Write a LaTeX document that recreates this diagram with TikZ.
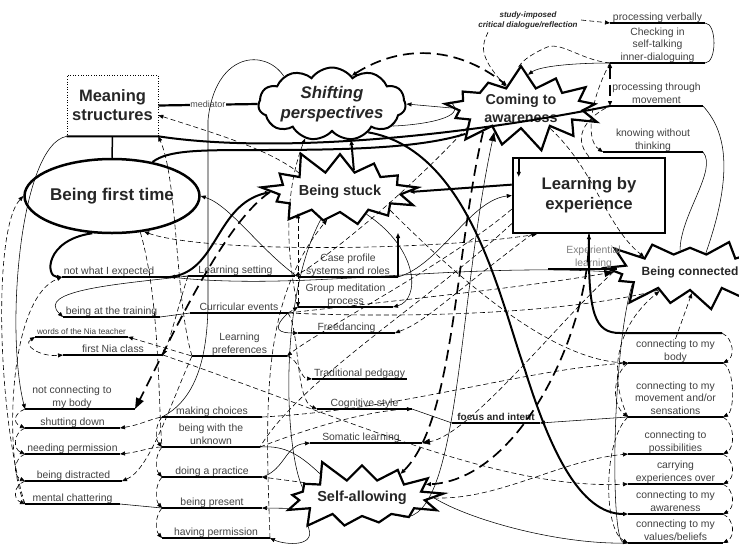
\documentclass[tikz,border=0pt]{standalone}
\usepackage{fontspec}
\setmainfont{Liberation Sans}
\usetikzlibrary{shapes.symbols,shapes.geometric,arrows.meta}
\tikzset{
 lab/.style={font=\fontsize{10.4}{12.3}\selectfont, text=black!75, align=center, inner sep=1.2pt, text depth=1.5pt},
 uline/.style={line width=2.2pt},
 thn/.style={draw, line width=0.55pt},
 thk/.style={draw, line width=2pt},
 dsh/.style={draw, line width=0.6pt, dash pattern=on 5pt off 3pt},
 ldsh/.style={draw, line width=1.7pt, dash pattern=on 11pt off 6pt},
 burst/.style={starburst, draw, line width=2.2pt, text=black!85, font=\bfseries\fontsize{14.5}{17}\selectfont, align=center, inner sep=0pt, starburst points=13, starburst point height=24pt},
 bigtip/.style={-{Triangle[length=9pt,width=7pt]}},
}
\newcommand\ulab[6][]{%
 \coordinate (#2-l) at (#3,#5); \coordinate (#2-r) at (#4,#5);
 \node[lab,anchor=south,#1] (#2) at ({(#3+#4)/2},#5) {#6};
 \draw[uline] (#2-l) -- (#2-r);}
\begin{document}
\begin{tikzpicture}[x=1pt,y=-1pt, >={Triangle[length=5pt,width=4pt]}]
\useasboundingbox (0,0) rectangle (739,550);

% ---------- main nodes
\node[draw, dotted, line width=0.6pt, minimum width=91pt, minimum height=61pt, font=\bfseries\fontsize{16.5}{19}\selectfont, align=center, text=black!85] (ms) at (112.5,105.5) {Meaning\\structures};
\node[cloud, cloud puffs=11, cloud puff arc=110, aspect=2.7, draw, line width=2pt, minimum width=146pt, minimum height=54pt, inner sep=0pt, text=black!85, font=\bfseries\itshape\fontsize{16.8}{20}\selectfont, align=center] (sp) at (332,104) {Shifting\\perspectives};
\node[burst, random starburst=7, minimum width=172pt, minimum height=88pt, font=\bfseries\fontsize{14.3}{18}\selectfont] (ca) at (521,108) {Coming to\\awareness};
\node[ellipse, draw, line width=2.5pt, minimum width=153pt, minimum height=74pt, inner sep=0pt, text=black!85, font=\bfseries\fontsize{17}{20}\selectfont] (bft) at (112,196) {Being first time};
\node[burst, random starburst=11, minimum width=170pt, minimum height=88pt] (bs) at (340,192) {Being stuck};
\node[draw, line width=2.5pt, minimum width=152pt, minimum height=75pt, text=black!85, font=\bfseries\fontsize{16.7}{20}\selectfont, align=center] (lbe) at (589,195.5) {Learning by\\experience};
\node[burst, random starburst=23, minimum width=160pt, minimum height=84pt, font=\bfseries\fontsize{12}{15}\selectfont] (bc) at (690,272) {Being connected};
\node[burst, random starburst=5, minimum width=165pt, minimum height=84pt] (sa) at (362,498) {Self-allowing};

\node[font=\bfseries\itshape\fontsize{8}{10}\selectfont, align=center, text=black!85] (study) at (528,20) {study-imposed\\critical dialogue/reflection};

% ---------- labelled lines
\ulab{pv}{610}{705}{23}{processing verbally}
\ulab{ci}{610}{705}{63}{Checking in\\self-talking\\inner-dialoguing}
\ulab{ptm}{610}{703}{106}{processing through\\movement}
\ulab{kwt}{603}{703}{152}{knowing without\\thinking}

\ulab[xshift=-7pt]{nwe}{62}{170}{277}{not what I expected}
\ulab{bat}{63}{160}{317}{being at the training}
\ulab[font=\fontsize{8.2}{9}\selectfont]{wnt}{35}{128}{337}{words of the Nia teacher}
\ulab{fnc}{63}{163}{355}{first Nia class}
\ulab[xshift=-8pt]{ncb}{25}{135}{409}{not connecting to\\my body}
\ulab{sd}{25}{120}{428}{shutting down}
\ulab{np}{25}{120}{454}{needing permission}
\ulab{bd}{25}{122}{481}{being distracted}
\ulab{mc}{25}{120}{504}{mental chattering}

\ulab[xshift=-6pt]{ls}{188}{295}{276}{Learning setting}
\ulab{ce}{190}{288}{313}{Curricular events}
\ulab{lp}{192}{287}{356}{Learning\\preferences}
\ulab{mch}{162}{262}{417}{making choices}
\ulab{bwu}{162}{260}{447}{being with the\\unknown}
\ulab{dap}{162}{262}{477}{doing a practice}
\ulab{bp}{162}{262}{508}{being present}
\ulab{hp}{162}{270}{538}{having permission}

\ulab{cp}{298}{398}{277}{Case profile\\systems and roles}
\ulab{gmp}{298}{393}{307}{Group meditation\\process}
\ulab{fd}{298}{395}{333}{Freedancing}
\ulab{tp}{312}{407}{379}{Traditional pedgagy}
\ulab{cs}{317}{412}{409}{Cognitive style}
\ulab[xshift=-5pt]{sl}{310}{422}{443}{Somatic learning}
\ulab[font=\bfseries\fontsize{10}{11}\selectfont, text=black!85]{fi}{452}{540}{423}{focus and intent}
\ulab[xshift=11pt, text=black!50]{el}{548}{617}{269}{Experiential\\learning}

\ulab{cb}{628}{723}{363}{connecting to my\\body}
\ulab{cms}{628}{723}{417}{connecting to my\\movement and/or\\sensations}
\ulab{cpo}{628}{723}{454}{connecting to\\possibilities}
\ulab{ceo}{628}{723}{484}{carrying\\experiences over}
\ulab{cma}{628}{723}{514}{connecting to my\\awareness}
\ulab{cvb}{628}{723}{543}{connecting to my\\values/beliefs}
\coordinate (bcu) at (722,333);

% ---------- connectors: top
\draw[uline] (ms.east) -- node[fill=white, font=\fontsize{9}{10}\selectfont, text=black!70, inner sep=0.8pt]{mediator} (sp.west);
\draw[dsh,->] (study.east) -- (pv-l);
\draw[thn] (pv-r) .. controls (717,23) and (717,63) .. (ci-r);
\draw[dsh,->] ([xshift=-40pt]study.south) .. controls (482,45) and (478,55) .. (ca.125);
\draw[ldsh,<->] (sp.55) .. controls (400,45) and (455,45) .. (ca.122);
\draw[thn,->] (ci-l) .. controls (575,63) and (540,66) .. (ca.78);
\draw[dsh] (ci-l) .. controls (580,60) and (560,40) .. (545,48) .. controls (530,55) and (520,62) .. (ca.95);
\draw[ldsh,<->] (ci-l) -- (ptm-l);
\draw[dsh,->] (ci-l) .. controls (590,100) and (585,140) .. (kwt-l);
\draw[dsh] (lbe.north) .. controls (570,135) and (590,115) .. (ptm-l);
\draw[thn] (ptm-r) .. controls (725,130) and (735,170) .. (bc.50);
\draw[thn] (kwt-r) .. controls (718,170) and (680,215) .. (bc.115);
\draw[thn,->] (ca.west) -- (sp.east);
\draw[thn] (sp.-20) .. controls (420,125) and (470,118) .. (ca.175);

% meaning structures / first time
\draw[line width=1.5pt] (ms.south) -- (bft.north);
\draw[thk] (ms.south west) -- (ms.south east) .. controls (260,152) and (430,142) .. (ptm-l);
\draw[thk] (bft.40) .. controls (168,150) and (200,150) .. (260,150) .. controls (350,150) and (420,148) .. (ca.-155);
\draw[thn] (sp.150) .. controls (265,48) and (215,52) .. (208,120) -- (208,300) .. controls (208,360) and (195,400) .. (mch-l);
\draw[thn,->] (ms.south west) .. controls (20,145) and (5,330) .. (ncb-l);
\draw[dsh,<-] (ms.-12) .. controls (220,135) and (270,150) .. (bs.155);
\draw[dsh,->] (lp-l) .. controls (175,300) and (178,180) .. (ms.south east);
\draw[dsh,<->] (bft.-48) .. controls (200,252) and (420,252) .. ([xshift=25pt]lbe.south west);
\draw[dsh] (bft.-52) .. controls (160,300) and (158,400) .. (bwu-l);
\draw[dsh,->] (mc-l) .. controls (5,470) and (5,300) .. (nwe-l);
\draw[dsh,->] (mc-l) .. controls (-2,420) and (-8,230) .. (bft.west);
\draw[thk,->] (bft.-118) .. controls (45,240) and (45,277) .. (nwe-l);
\draw[thn,->] (ls-l) .. controls (120,284) and (35,290) .. (bat-l);
\draw[thn] (bat-r) -- (ce-l);
\draw[dsh,<-] (nwe-r) -- (ls-l);
\draw[thn] (nwe-r) .. controls (300,292) and (450,262) .. (bc.west);
\draw[dsh,<-] (wnt-r) -- (lp-l);
\draw[dsh,<->] (wnt-l) .. controls (22,345) and (40,357) .. (fnc-l);
\draw[thk,->] (nwe-r) .. controls (218,272) and (215,205) .. (bs.west);
\draw[ldsh,-{Triangle[length=11pt,width=8pt]}] (bs.west) .. controls (225,222) and (175,330) .. (ncb-r);
\draw[dsh,->] (ls-l) .. controls (180,300) and (170,340) .. (fnc-r);
\draw[thn,->] (cp-l) .. controls (260,250) and (230,205) .. (bft.east);

% left column brackets
\foreach \a/\b in {ncb/sd, sd/np, np/bd, bd/mc}
  \draw[dsh,->] (\a-l) .. controls +(-12,5) and +(-12,-5) .. (\b-l);
\draw[dsh,<-] (sd-r) .. controls (140,425) and (150,419) .. (mch-l);
\draw[dsh,<-] (np-r) .. controls (140,452) and (150,447) .. (bwu-l);
\draw[dsh,<-] (bd-r) .. controls (150,470) and (172,400) .. (lp-l);
\draw[thn] (mc-r) -- (bp-l);
\foreach \a/\b in {mch/bwu, bwu/dap, dap/bp, bp/hp}
  \draw[dsh,->] (\a-l) .. controls +(-7,8) and +(-7,-8) .. (\b-l);

% middle column
\draw[dsh,<->] (gmp-l |- bs.south) -- (gmp-l);
\draw[dsh,->] (ce-r) -- (gmp-l);
\draw[thn,->] (ce-r) .. controls (270,330) and (280,333) .. (fd-l);
\draw[dsh,<-] (fd-r) .. controls (425,322) and (445,300) .. ([xshift=20pt]lbe.south west);
\draw[thn,->] (bs.-40) .. controls (420,250) and (420,300) .. (gmp-r);
\draw[thk,->] (cp-r) -- ++(0,-44);
\draw[dsh,->] (lp-r) .. controls (300,360) and (300,378) .. (tp-l);
\draw[dsh,->] (ce-r) .. controls (300,330) and (295,400) .. (cs-l);
\draw[dsh,->] (bwu-r) .. controls (330,420) and (380,410) .. (cs-r);
\draw[thn,->] (dap-r) .. controls (285,470) and (285,445) .. (sl-l);
\draw[dsh,-{Triangle[length=8pt,width=6pt]}] (bc.west) .. controls (560,320) and (470,435) .. (sl-r);
\draw[thn] (cs-r) -- (fi-l);
\draw[thn,<-] (fi-r) -- (cms-l);
\draw[dsh,->] (ca.-160) .. controls (400,200) and (320,262) .. (ls-r);
\draw[dsh] (lbe.-160) .. controls (430,300) and (300,380) .. (bwu-r);
\draw[dsh,->] (lbe.-170) .. controls (450,262) and (320,330) .. (lp-r);
\draw[dsh,->] (gmp-l) .. controls (285,250) and (285,190) .. (sp.-128);
\draw[thk,->] (bs.58) -- (sp.-62);
\draw[dsh,->] (hp-r) .. controls (265,400) and (262,300) .. (bs.-115);
\draw[thn] (bs.-125) .. controls (278,300) and (285,450) .. (sa.170);

% self-allowing
\draw[dsh,->] (sa.165) -- (dap-r);
\draw[thn,->] (sa.188) -- (bp-r);
\draw[thn] (sa.150) .. controls (300,455) and (285,445) .. (bwu-r);
\draw[thn,->] (sa.-155) .. controls (320,548) and (285,545) .. (hp-r);
\draw[thn] (sa.east) .. controls (470,520) and (560,545) .. (cvb-l);
\draw[ldsh,->] (lbe.south) .. controls (590,330) and (520,480) .. (sa.12);
\draw[ldsh,->] (ca.-148) .. controls (455,250) and (455,420) .. (sa.32);
\draw[thn,bigtip] (sa.-25) .. controls (460,520) and (458,300) .. (ca.-138);
\draw[thk,->] (sp.-38) .. controls (470,150) and (500,300) .. (525,370) .. controls (550,450) and (580,514) .. (cma-l);
\draw[thk,->] ([xshift=7pt]lbe.north west) -- ++(0,20);

% learning by experience / being stuck
\draw[thk,->] (lbe.172) -- (bs.east);
\draw[thn,->] (cp-r) .. controls (440,265) and (470,200) .. (lbe.west);
\draw[thk,<-] (lbe.south) .. controls (588,315) and (595,333) .. (620,333) -- (bcu);
\draw[dsh,bigtip] (ce-r) .. controls (400,300) and (520,288) .. (bc.west);
\draw[dsh,->] (ca.-35) .. controls (595,170) and (605,225) .. (bc.162);
\draw[dsh,->] (cms-l) .. controls (610,380) and (612,330) .. (bc.-148);
\draw[dsh,->] (cb.north) -- (bc.-85);
\draw[dsh] (ce-r) .. controls (400,318) and (560,315) .. (bc.-150);

% right column
\foreach \a/\b in {bcu/cb-r, cb-r/cms-r, cms-r/cpo-r, cpo-r/ceo-r, ceo-r/cma-r, cma-r/cvb-r}
  \draw[dsh,->] (\a) .. controls +(12,6) and +(12,-6) .. (\b);
\draw[dsh,->] (cb-l) .. controls (612,375) and (612,405) .. (cms-l);
\draw[dsh,->] (cms-l) .. controls (603,440) and (603,530) .. (cvb-l);
\draw[thn,->] (bc.-168) .. controls (612,350) and (610,540) .. (cvb-l);
\draw[dsh,->] (mch-r) .. controls (400,410) and (520,370) .. (cb-l);
\draw[dsh,->] (bs.-20) .. controls (480,300) and (560,360) .. (cb-l);
\draw[dsh,->] (fnc-r) .. controls (350,420) and (500,490) .. (ceo-l);
\draw[dsh,->] (sa.east) .. controls (500,500) and (560,460) .. (cpo-l);
\end{tikzpicture}
\end{document}
